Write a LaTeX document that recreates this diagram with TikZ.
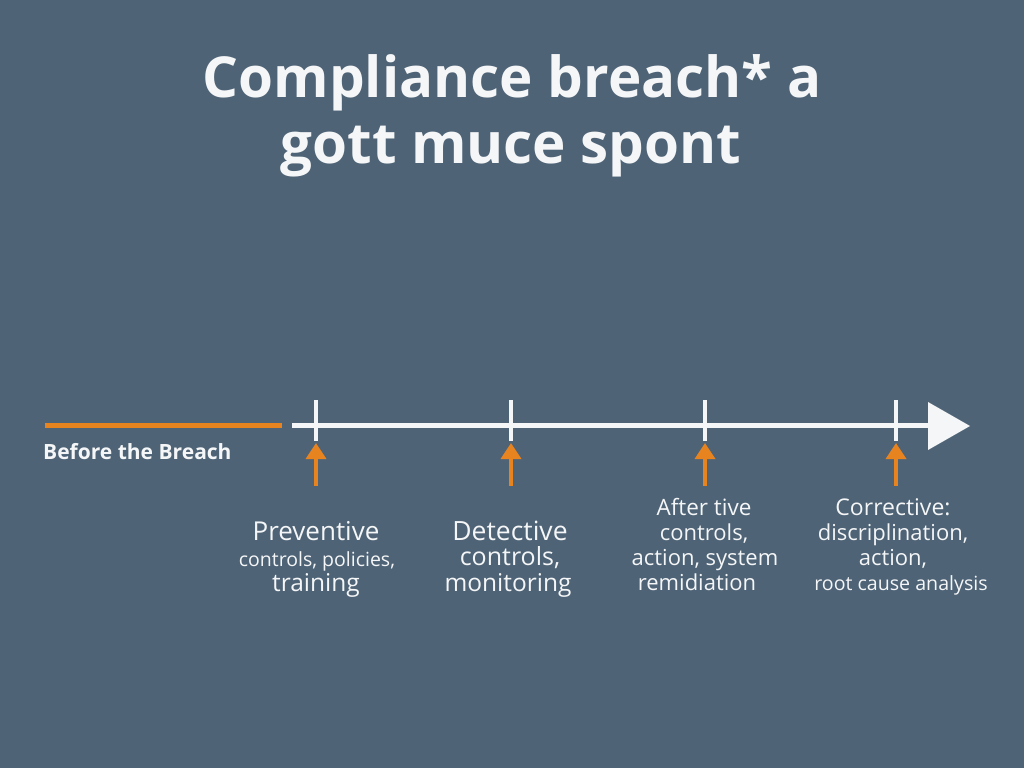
\documentclass[tikz,border=0pt]{standalone}
\usepackage{fontspec}
\setmainfont{Open Sans}
\usetikzlibrary{arrows.meta}
\definecolor{bg}{RGB}{78,99,118}
\definecolor{org}{RGB}{232,132,32}
\definecolor{wht}{RGB}{245,246,247}
\tikzset{
  tick/.style={draw=wht, line width=3.5pt},
  uparrow/.style={draw=org, line width=3.5pt, -{Triangle[width=20pt,length=16pt]}},
  lab/.style={text=wht, align=center, anchor=base, inner sep=0pt},
}
\begin{document}
\begin{tikzpicture}[x=1pt,y=-1pt]
\fill[bg] (0,0) rectangle (1024,768);
\useasboundingbox (0,0) rectangle (1024,768);
% title
\node[text=wht, font=\fontsize{56.5}{66}\selectfont\bfseries, anchor=base] (t1) at (512,97) {Compliance breach* a};
\node[text=wht, font=\fontsize{56.5}{66}\selectfont\bfseries, anchor=base] (t2) at (511,163) {gott muce spont};
% timeline
\coordinate (o1) at (45,425);
\coordinate (o2) at (282,425);
\draw[org, line width=5pt] (o1) -- (o2);
\coordinate (w1) at (292,425);
\coordinate (w2) at (932,425);
\draw[wht, line width=5pt] (w1) -- (w2);
\coordinate (ah) at (970,426);
\fill[wht] (928,402) -- (ah) -- (928,450) -- cycle;
\node[text=wht, font=\fontsize{21}{24}\selectfont\bfseries, anchor=base west, inner sep=0pt] (before) at (43,459) {Before the Breach};
% ticks and arrows
\foreach \x/\n in {316/a,511/b,705/c,896/d}{
  \coordinate (tt\n) at (\x,400);
  \coordinate (tb\n) at (\x,441);
  \draw[tick] (tt\n) -- (tb\n);
  \coordinate (as\n) at (\x,486);
  \coordinate (ae\n) at (\x,443);
  \draw[uparrow] (as\n) -- (ae\n);
}
% labels
\node[lab, font=\fontsize{26}{25}\selectfont] (pa) at (316,540) {Preventive};
\node[lab, font=\fontsize{19.5}{25}\selectfont] (pb) at (317,566) {controls, policies,};
\node[lab, font=\fontsize{24.5}{25}\selectfont] (pc) at (316,591) {training};
\node[lab, font=\fontsize{26.5}{25}\selectfont] (da) at (510,540) {Detective};
\node[lab, font=\fontsize{25}{25}\selectfont] (db) at (510,565) {controls,};
\node[lab, font=\fontsize{24.5}{25}\selectfont] (dc) at (508,591) {monitoring};
\node[lab, font=\fontsize{22.5}{25}\selectfont] (ca) at (704,515) {After tive};
\node[lab, font=\fontsize{22}{25}\selectfont] (cb) at (704,540) {controls,};
\node[lab, font=\fontsize{22}{25}\selectfont] (cc) at (705,565) {action, system};
\node[lab, font=\fontsize{22}{25}\selectfont] (cd) at (697,590) {remidiation};
\node[lab, font=\fontsize{23}{25}\selectfont] (ra) at (893,515) {Corrective:};
\node[lab, font=\fontsize{22}{25}\selectfont] (rb) at (893,540) {discriplination,};
\node[lab, font=\fontsize{22}{25}\selectfont] (rc) at (893,565) {action,};
\node[lab, font=\fontsize{19.6}{25}\selectfont] (rd) at (901,590) {root cause analysis};
\end{tikzpicture}
\end{document}
